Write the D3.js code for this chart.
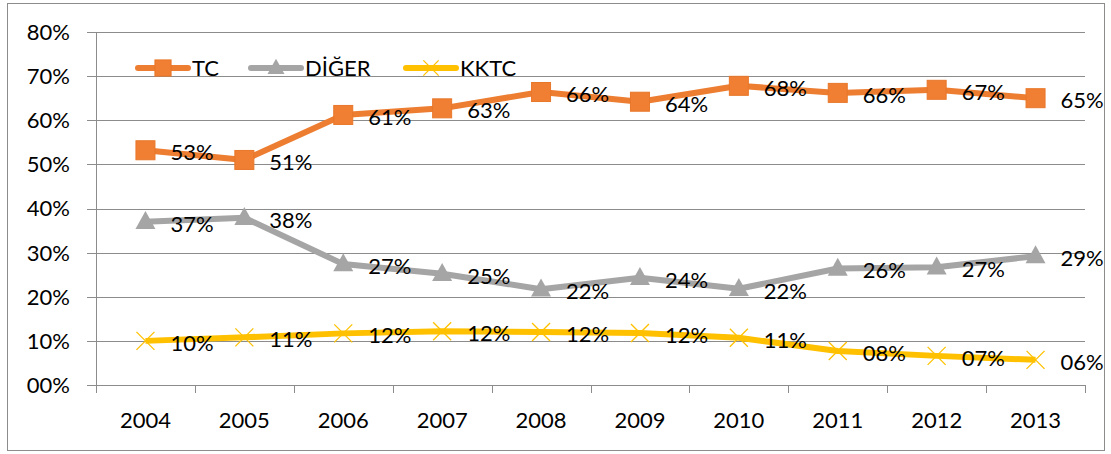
<!DOCTYPE html>
<html>
<head>
<meta charset="utf-8">
<script src="https://d3js.org/d3.v7.min.js"></script>
<style>
  body { margin: 0; background: #fff; }
  svg text { font-family: Lato, "Open Sans", sans-serif; fill: #000; }
</style>
</head>
<body>
<svg id="chart" width="1111" height="454"></svg>
<script>
// data
var years = ["2004", "2005", "2006", "2007", "2008", "2009", "2010", "2011", "2012", "2013"];
var tc    = [0.532, 0.510, 0.612, 0.627, 0.664, 0.642, 0.678, 0.662, 0.669, 0.650];
var diger = [0.370, 0.379, 0.274, 0.252, 0.217, 0.243, 0.218, 0.264, 0.267, 0.292];
var kktc  = [0.100, 0.108, 0.117, 0.122, 0.120, 0.118, 0.107, 0.077, 0.066, 0.057];
var yTicks = [0, 0.1, 0.2, 0.3, 0.4, 0.5, 0.6, 0.7, 0.8];

var series = [
  {name: "TC", values: tc, color: "#ED7D31", marker: "square"},
  {name: "DİĞER", values: diger, color: "#A5A5A5", marker: "triangle"},
  {name: "KKTC", values: kktc, color: "#FFC000", marker: "cross"}
];

var svg = d3.select("#chart");
var plotLeft = 96, plotRight = 1085, plotTop = 32, plotBottom = 385;
var fs = "22px";

// outer frame
svg.append("rect")
  .attr("x", 7.5).attr("y", 3.5)
  .attr("width", 1097).attr("height", 447)
  .attr("fill", "none").attr("stroke", "#8c8c8c").attr("stroke-width", 1);

var x = d3.scalePoint().domain(years).range([plotLeft, plotRight]).padding(0.5);
var y = d3.scaleLinear().domain([0, 0.8]).range([plotBottom, plotTop]);

function pct(v) {
  var n = Math.round(v * 100);
  return (n < 10 ? "0" + n : "" + n) + "%";
}

// gridlines
svg.append("g").selectAll("line")
  .data(yTicks)
  .enter()
  .append("line")
    .attr("x1", plotLeft - 9).attr("x2", plotRight)
    .attr("y1", function(d) { return Math.round(y(d)) + 0.5; })
    .attr("y2", function(d) { return Math.round(y(d)) + 0.5; })
    .attr("stroke", "#8c8c8c").attr("stroke-width", 1);

// y axis labels
svg.append("g").selectAll("text")
  .data(yTicks)
  .enter()
  .append("text")
    .attr("x", 70)
    .attr("y", function(d) { return y(d); })
    .attr("dy", "0.36em")
    .attr("text-anchor", "end")
    .style("font-size", fs)
    .text(pct);

// y axis line
svg.append("line")
  .attr("x1", plotLeft + 0.5).attr("x2", plotLeft + 0.5)
  .attr("y1", plotTop).attr("y2", plotBottom + 8)
  .attr("stroke", "#8c8c8c");

// x category boundary ticks
var step = x.step();
var bounds = d3.range(years.length + 1).map(function(i) { return plotLeft + i * step; });
svg.append("g").selectAll("line")
  .data(bounds)
  .enter()
  .append("line")
    .attr("x1", function(d) { return Math.round(d) + 0.5; })
    .attr("x2", function(d) { return Math.round(d) + 0.5; })
    .attr("y1", plotBottom).attr("y2", plotBottom + 8)
    .attr("stroke", "#8c8c8c");

// x labels
svg.append("g").selectAll("text")
  .data(years)
  .enter()
  .append("text")
    .attr("x", function(d) { return x(d); })
    .attr("y", 428)
    .attr("text-anchor", "middle")
    .style("font-size", fs)
    .text(function(d) { return d; });

function drawMarker(g, type, color, cx, cy, legend) {
  var s = legend ? 0.85 : 1;
  if (type == "square") {
    var h = 9.5 * s;
    g.append("rect")
      .attr("x", cx - h).attr("y", cy - h)
      .attr("width", 2 * h).attr("height", 2 * h)
      .attr("fill", "#F07F33").attr("stroke", "#E8772A").attr("stroke-width", 1);
  } else if (type == "triangle") {
    var w = 10 * s, ht = 18 * s;
    g.append("path")
      .attr("d", "M" + cx + "," + (cy - ht * 0.6) + "L" + (cx + w) + "," + (cy + ht * 0.4) + "L" + (cx - w) + "," + (cy + ht * 0.4) + "Z")
      .attr("fill", "#A5A5A5");
  } else {
    var r = 9 * s;
    g.append("path")
      .attr("d", "M" + (cx - r) + "," + (cy - r) + "L" + (cx + r) + "," + (cy + r) + "M" + (cx - r) + "," + (cy + r) + "L" + (cx + r) + "," + (cy - r))
      .attr("stroke", color).attr("stroke-width", 1.3).attr("fill", "none");
  }
}

var line = d3.line()
  .x(function(d, i) { return x(years[i]); })
  .y(function(d) { return y(d); });

series.forEach(function(s) {
  var g = svg.append("g");
  g.append("path")
    .datum(s.values)
    .attr("d", line)
    .attr("fill", "none")
    .attr("stroke", s.color)
    .attr("stroke-width", 6)
    .attr("stroke-linejoin", "round");
  s.values.forEach(function(v, i) {
    drawMarker(g, s.marker, s.color, x(years[i]), y(v), false);
  });
});

// data labels on top
series.forEach(function(s) {
  svg.append("g").selectAll("text")
    .data(s.values)
    .enter()
    .append("text")
      .attr("x", function(d, i) { return x(years[i]) + 25; })
      .attr("y", function(d) { return y(d) + 2; })
      .attr("dy", "0.36em")
      .style("font-size", fs)
      .text(pct);
});

// legend
var legendX = [135, 248, 403];
series.forEach(function(s, i) {
  var g = svg.append("g");
  var lx = legendX[i], ly = 68;
  g.append("line")
    .attr("x1", lx + 3).attr("x2", lx + 53)
    .attr("y1", ly).attr("y2", ly)
    .attr("stroke", s.color).attr("stroke-width", 6)
    .attr("stroke-linecap", "round");
  drawMarker(g, s.marker, s.color, lx + 28, ly, true);
  g.append("text")
    .attr("x", lx + 57)
    .attr("y", ly)
    .attr("dy", "0.36em")
    .style("font-size", fs)
    .text(s.name);
});
</script>
</body>
</html>
